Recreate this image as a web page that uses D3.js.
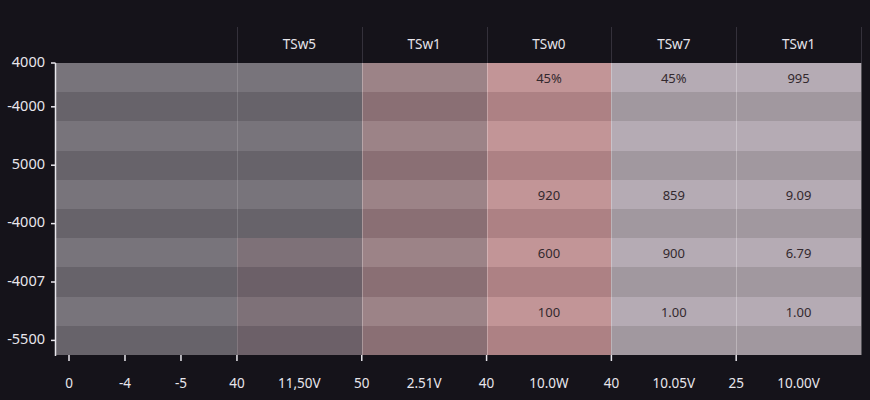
<!DOCTYPE html>
<html>
<head>
<meta charset="utf-8">
<script src="https://cdn.jsdelivr.net/npm/d3@7"></script>
<style>
  html, body { margin: 0; padding: 0; background: #15131a; }
  svg { display: block; }
  text { font-family: "Noto Sans", "Open Sans", sans-serif; }
</style>
</head>
<body>
<svg id="chart" width="870" height="400"></svg>
<script>
// ---- data ----
const columnHeaders = ["TSw5", "TSw1", "TSw0", "TSw7", "TSw1"];
const columnUnits = ["11,50V", "2.51V", "10.0W", "10.05V", "10.00V"];
const boundaryTicks = ["50", "40", "40", "25"];
const leadTicks = ["0", "-4", "-5", "40"];
const yTickLabels = ["4000", "-4000", "5000", "-4000", "-4007", "-5500"];
const rowIds = [0, 1, 2, 3, 4, 5, 6, 7, 8, 9];
// heat class per row: lead column, then one list per headed column
const leadHeat = [0, 0, 0, 0, 0, 0, 0, 0, 0, 0];
const heatTSw5 = [0, 0, 0, 0, 0, 0, 1, 1, 1, 1];
const heatTSw1 = [2, 2, 2, 2, 2, 2, 2, 2, 2, 2];
const heatTSw0 = [3, 3, 3, 3, 3, 3, 3, 3, 3, 3];
const heatTSw7 = [4, 4, 4, 4, 4, 4, 4, 4, 4, 4];
const heatTSw1b = [4, 4, 4, 4, 4, 4, 4, 4, 4, 4];
// cell labels (row index -> text)
const labelsTSw0 = {0: "45%", 4: "920", 6: "600", 8: "100"};
const labelsTSw7 = {0: "45%", 4: "859", 6: "900", 8: "1.00"};
const labelsTSw1b = {0: "995", 4: "9.09", 6: "6.79", 8: "1.00"};

(function () {
// ---- layout ----
const pL = 56, pR = 861, pT = 63, pB = 355, headerTop = 27;
const leadEnd = pL + (pR - pL) * 0.2248;

const svg = d3.select("#chart");

const colIdx = d3.range(columnHeaders.length);
const x = d3.scaleBand().domain(colIdx).range([leadEnd, pR]).padding(0);
const xLead = d3.scalePoint().domain(d3.range(leadTicks.length)).range([pL + 13, leadEnd]);
const y = d3.scaleBand().domain(rowIds).range([pT, pB]).padding(0);

const lightColor = d3.scaleOrdinal().domain([0, 1, 2, 3, 4])
  .range(["#78747b", "#7e7178", "#9c8387", "#c29597", "#b5abb4"]);
const darkColor = d3.scaleOrdinal().domain([0, 1, 2, 3, 4])
  .range(["#67636a", "#6c6068", "#8a6f74", "#ad8184", "#a1989f"]);
const fillFor = (heat, r) => (r % 2 === 0 ? lightColor(heat) : darkColor(heat));

// ---- cells ----
const headedHeat = [heatTSw5, heatTSw1, heatTSw0, heatTSw7, heatTSw1b];
const cells = [];
rowIds.forEach(r => {
  cells.push({x0: pL, x1: leadEnd, r, heat: leadHeat[r]});
  colIdx.forEach(c => {
    cells.push({x0: x(c), x1: x(c) + x.bandwidth(), r, heat: headedHeat[c][r]});
  });
});
svg.append("g").attr("shape-rendering", "crispEdges")
  .selectAll("rect").data(cells).join("rect")
  .attr("x", d => Math.round(d.x0))
  .attr("y", d => Math.round(y(d.r)))
  .attr("width", d => Math.round(d.x1) - Math.round(d.x0))
  .attr("height", d => Math.round(y(d.r) + y.bandwidth()) - Math.round(y(d.r)))
  .attr("fill", d => fillFor(d.heat, d.r));

// ---- dividers ----
const divs = colIdx.map(c => Math.round(x(c)) + 0.5).concat([pR + 0.5]);
svg.append("g").selectAll("line").data(divs).join("line")
  .attr("x1", d => d).attr("x2", d => d)
  .attr("y1", headerTop).attr("y2", pT)
  .attr("stroke", "#34313b").attr("stroke-width", 1);
svg.append("g").selectAll("line").data(divs).join("line")
  .attr("x1", d => d).attr("x2", d => d)
  .attr("y1", pT).attr("y2", pB)
  .attr("stroke", "#ffffff").attr("stroke-opacity", (d, i) => i === 0 ? 0.15 : 0.28).attr("stroke-width", 1);

// ---- headers ----
svg.append("g").selectAll("text").data(colIdx).join("text")
  .attr("x", c => x(c) + x.bandwidth() / 2)
  .attr("y", (headerTop + pT) / 2)
  .attr("text-anchor", "middle")
  .attr("dominant-baseline", "middle")
  .attr("fill", "#e6e4ea")
  .attr("font-size", 13.5)
  .text(c => columnHeaders[c]);

// ---- cell labels ----
const labelCols = [[2, labelsTSw0], [3, labelsTSw7], [4, labelsTSw1b]];
const labelData = [];
labelCols.forEach(([c, obj]) => {
  Object.keys(obj).forEach(k => labelData.push({c, r: +k, t: obj[k]}));
});
svg.append("g").selectAll("text").data(labelData).join("text")
  .attr("x", d => x(d.c) + x.bandwidth() / 2)
  .attr("y", d => y(d.r) + y.bandwidth() / 2 + 2)
  .attr("text-anchor", "middle")
  .attr("dominant-baseline", "middle")
  .attr("fill", "#33292e")
  .attr("font-size", 13)
  .text(d => d.t);

// ---- y axis ----
const axisColor = "#e8e6ec";
const yTickPos = [pT].concat(rowIds.filter(r => r % 2 === 1).map(r => y(r) + y.bandwidth() / 2));
const gy = svg.append("g");
gy.append("line").attr("x1", pL - 0.5).attr("x2", pL - 0.5)
  .attr("y1", pT).attr("y2", pB + 1)
  .attr("stroke", axisColor).attr("stroke-width", 1.5);
const yt = gy.selectAll("g").data(yTickLabels).join("g")
  .attr("transform", (d, i) => `translate(0,${yTickPos[i]})`);
yt.append("line").attr("x1", pL - 5).attr("x2", pL - 0.5)
  .attr("stroke", axisColor).attr("stroke-width", 1.5);
yt.append("text").attr("x", pL - 11).attr("text-anchor", "end")
  .attr("dominant-baseline", "middle").attr("fill", axisColor)
  .attr("font-size", 14.5).text(d => d);

// ---- x axis ----
const gx = svg.append("g");
gx.append("line").attr("x1", pL - 1).attr("x2", pR)
  .attr("y1", pB + 0.5).attr("y2", pB + 0.5)
  .attr("stroke", axisColor).attr("stroke-width", 1.5);
const tickItems = leadTicks.map((t, i) => ({pos: xLead(i), t, tick: true}))
  .concat(boundaryTicks.map((t, i) => ({pos: x(i) + x.bandwidth(), t, tick: true})))
  .concat(columnUnits.map((t, i) => ({pos: x(i) + x.bandwidth() / 2, t, tick: false})));
gx.selectAll("line").data(tickItems.filter(d => d.tick)).join("line")
  .attr("x1", d => d.pos).attr("x2", d => d.pos)
  .attr("y1", pB).attr("y2", pB + 6)
  .attr("stroke", axisColor).attr("stroke-width", 1.5);
gx.selectAll("text").data(tickItems).join("text")
  .attr("x", d => d.pos).attr("y", 384)
  .attr("text-anchor", "middle").attr("dominant-baseline", "middle")
  .attr("fill", axisColor).attr("font-size", 13.5).text(d => d.t);
})();
</script>
</body>
</html>
